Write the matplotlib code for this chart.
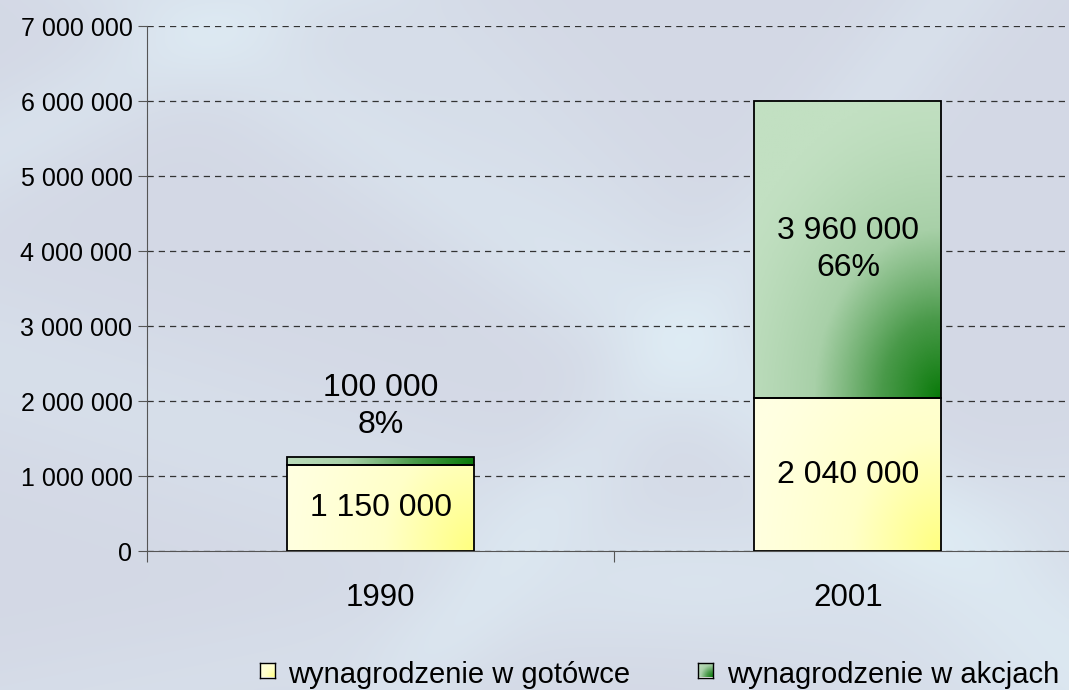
import numpy as np
import matplotlib
matplotlib.use("Agg")
import matplotlib.pyplot as plt
from matplotlib.colors import LinearSegmentedColormap
from matplotlib.ticker import FuncFormatter, MultipleLocator

plt.rcParams['font.family'] = ['Liberation Sans', 'DejaVu Sans']

categories = ["1990", "2001"]
cash = [1150000, 2040000]
shares = [100000, 3960000]
share_pct = ["8%", "66%"]
series_names = ["wynagrodzenie w gotówce", "wynagrodzenie w akcjach"]

def fmt(v):
    return f"{int(v):,}".replace(",", " ")

fig = plt.figure(figsize=(10.69, 6.90), dpi=100)

# background
bg = fig.add_axes([0, 0, 1, 1], zorder=-10)
h, w = 345, 535
yy, xx = np.mgrid[0:h, 0:w]
base = np.full((h, w), 0.0)
for (cx, cy, ang, s, a) in [(200, 80, 0.6, 30, 0.35), (380, 120, -0.9, 25, 0.3),
                             (120, 220, 0.3, 40, 0.25), (450, 260, 0.8, 35, 0.2),
                             (300, 300, -0.2, 30, 0.2), (60, 40, -0.5, 25, 0.35)]:
    d = np.abs((xx - cx) * np.sin(ang) - (yy - cy) * np.cos(ang))
    base += a * np.exp(-(d / s) ** 2)
base = np.clip(base, 0, 1)
c0 = np.array([0.83, 0.85, 0.90])
c1 = np.array([0.88, 0.94, 0.97])
img = c0[None, None, :] * (1 - base[..., None]) + c1[None, None, :] * base[..., None]
bg.imshow(img, aspect='auto', extent=[0, 1, 0, 1], interpolation='bilinear')
bg.axis('off')

ax_rect = [0.1375, 0.2014, 0.8625, 0.7609]
ax = fig.add_axes(ax_rect)
ax.patch.set_alpha(0)
x = np.arange(len(categories))
width = 0.4
xlim = (-0.5, 1.473)
ylim = (0, 7000000)

cmap_cash = LinearSegmentedColormap.from_list("c", ["#ffffe2", "#ffffc8", "#ffff80"])
cmap_sh = LinearSegmentedColormap.from_list("s", ["#c2e0c2", "#a8d0a8", "#4a9a4a", "#0a7a0a"])

def grad_img(cmap, wpx, hpx, rfac, vsq, pw):
    gy, gx = np.mgrid[0:100, 0:100] / 99.0
    dx = (1 - gx) * wpx
    dy = (1 - gy) * hpx * vsq   # origin='upper': distance from bottom edge
    r = np.sqrt(dx ** 2 + dy ** 2)
    t = np.clip(1 - r / (rfac * wpx), 0, 1) ** pw
    return cmap(t)

fig_w_px, fig_h_px = 1069, 690
ax_w_px = ax_rect[2] * fig_w_px
ax_h_px = ax_rect[3] * fig_h_px

bars_cash = ax.bar(x, cash, width, color='none', edgecolor='black', linewidth=1.3, zorder=3)
bars_sh = ax.bar(x, shares, width, bottom=cash, color='none', edgecolor='black', linewidth=1.3, zorder=3)

for bars, cmap, rf, vs, pw in [(bars_cash, cmap_cash, 1.1, 0.8, 1.2),
                               (bars_sh, cmap_sh, 1.25, 0.75, 1.4)]:
    for b in bars:
        x0, y0 = b.get_x(), b.get_y()
        bw, bh = b.get_width(), b.get_height()
        wpx = bw / (xlim[1] - xlim[0]) * ax_w_px
        hpx = bh / (ylim[1] - ylim[0]) * ax_h_px
        im = ax.imshow(grad_img(cmap, wpx, hpx, rf, vs, pw), extent=[x0, x0 + bw, y0, y0 + bh],
                       aspect='auto', zorder=2, origin='upper', interpolation='bilinear')
        im.set_clip_path(b)

# labels
for i in range(len(categories)):
    ax.text(x[i], cash[i] / 2, fmt(cash[i]), ha='center', va='center', fontsize=23, zorder=4)
    if shares[i] < 500000:
        ax.text(x[i], cash[i] + shares[i] + 680000, fmt(shares[i]) + "\n" + share_pct[i],
                ha='center', va='center', fontsize=23, linespacing=1.3, zorder=4)
    else:
        ax.text(x[i], cash[i] + shares[i] / 2, fmt(shares[i]) + "\n" + share_pct[i],
                ha='center', va='center', fontsize=23, linespacing=1.3, zorder=4)

ax.set_xlim(*xlim)
ax.set_ylim(*ylim)
ax.yaxis.set_major_locator(MultipleLocator(1000000))
ax.yaxis.set_major_formatter(FuncFormatter(lambda v, p: fmt(v)))
ax.grid(axis='y', linestyle=(0, (5, 4)), color='#333333', linewidth=0.9, zorder=1)
ax.set_xticks([-0.5, 0.5])
ax.set_xticklabels(["", ""])
ax.tick_params(axis='x', length=8, color='#555555')
for i, c in enumerate(categories):
    ax.text(x[i], -630000, c, ha='center', va='center', fontsize=22.5)
ax.tick_params(axis='y', labelsize=18, length=6.5, color='#555555', pad=4)
for s in ['top', 'right']:
    ax.spines[s].set_visible(False)
ax.spines['left'].set_color('#555555')
ax.spines['bottom'].set_color('#555555')

# legend
sq_cy = (690 - 670) / 690
txt_base = (690 - 683) / 690
sq_x = [267, 705]
txt_x = [288, 727]
for i, name in enumerate(series_names):
    px = sq_x[i] / 1069
    sq = fig.add_axes([px - 7.5 / 1069, sq_cy - 7.5 / 690, 15 / 1069, 15 / 690])
    cmap = cmap_cash if i == 0 else cmap_sh
    sq.imshow(grad_img(cmap, 15, 15, 1.4, 1.0, 1.2), aspect='auto', extent=[0, 1, 0, 1])
    sq.set_xticks([]); sq.set_yticks([])
    for s in sq.spines.values():
        s.set_color('black'); s.set_linewidth(1.0)
    fig.text(txt_x[i] / 1069, txt_base, name, ha='left', va='baseline', fontsize=21)

fig.savefig("out.png", dpi=100)
